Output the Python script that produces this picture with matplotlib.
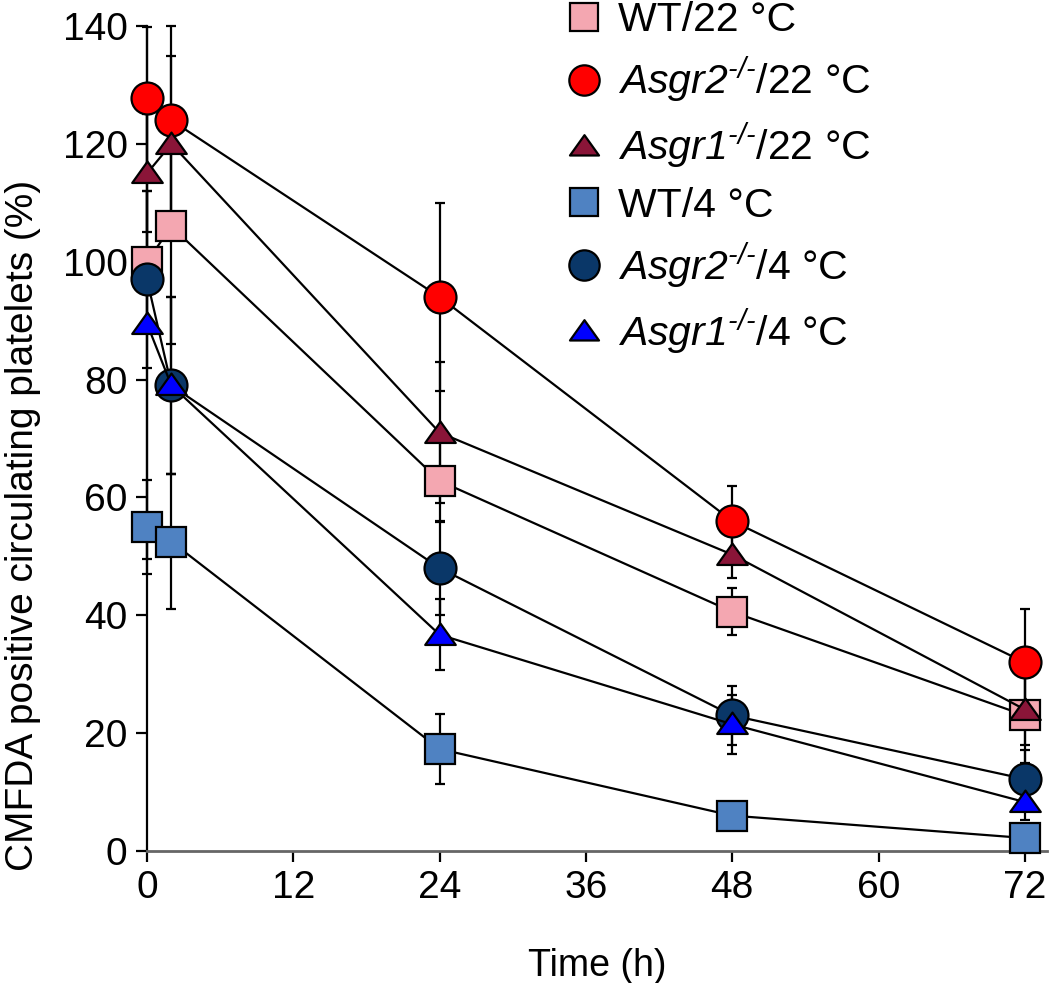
import numpy as np
import matplotlib
matplotlib.use('Agg')
import matplotlib.pyplot as plt
from matplotlib.path import Path

plt.rcParams['font.family'] = ['Liberation Sans', 'DejaVu Sans']
plt.rcParams['mathtext.fontset'] = 'custom'
# italic gene names are written with \text{}, which uses the rm slot
plt.rcParams['mathtext.rm'] = 'Liberation Sans:italic'
plt.rcParams['mathtext.it'] = 'Liberation Sans:italic'

# time points (h)
time = [0, 2, 24, 48, 72]

# series values (% CMFDA positive platelets) and error bars
wt_22 = [100, 106, 62.8, 40.6, 23]
wt_22_err = [12, 20, 7, 4, 8]
asgr2_22 = [127.8, 124, 94, 56, 32]
asgr2_22_err = [12, 16, 16, 6, 9]
asgr1_22 = [115, 120, 71, 50.3, 24]
asgr1_22_err = [10, 15, 12, 4, 6]
wt_4 = [55, 52.5, 17.3, 6, 2.2]
wt_4_err = [8, 11.5, 6, 2, 1.5]
asgr2_4 = [97, 79, 48, 23, 12.2]
asgr2_4_err = [15, 15, 8, 5, 5]
asgr1_4 = [89.5, 79, 36.7, 21.5, 8.3]
asgr1_4_err = [40, 15, 6, 5, 3]

labels = ['WT/22 °C', r'$\text{Asgr2}^{\text{-/-}}$/22 °C', r'$\text{Asgr1}^{\text{-/-}}$/22 °C',
          'WT/4 °C', r'$\text{Asgr2}^{\text{-/-}}$/4 °C', r'$\text{Asgr1}^{\text{-/-}}$/4 °C']
colors = ['#F4A7B1', '#FF0000', '#8A1538', '#4F82C2', '#0A3768', '#0000FF']

# flattened triangle marker
tri = Path([(-1, -0.62), (1, -0.62), (0, 0.78), (-1, -0.62)],
           [Path.MOVETO, Path.LINETO, Path.LINETO, Path.CLOSEPOLY])
markers = ['s', 'o', tri, 's', 'o', tri]
sizes = [21, 23, 22, 21, 23, 22]

series = [wt_22, asgr2_22, asgr1_22, wt_4, asgr2_4, asgr1_4]
errors = [wt_22_err, asgr2_22_err, asgr1_22_err, wt_4_err, asgr2_4_err, asgr1_4_err]

fig = plt.figure(figsize=(10.5, 9.83), dpi=100)
ax = fig.add_axes([0.14, 0.1343, 0.857, 0.8392])

for vals, err, lab, col, mk, ms in zip(series, errors, labels, colors, markers, sizes):
    ax.errorbar(time, vals, yerr=err, fmt='none', ecolor='black', elinewidth=1.6,
                capsize=3.5, capthick=1.6, clip_on=False, zorder=2)
    ax.plot(time, vals, color='black', lw=1.6, marker=mk, markersize=ms,
            markerfacecolor=col, markeredgecolor='black', markeredgewidth=1.6,
            clip_on=False, zorder=3, label=lab)

ax.set_xlim(0, 73.8)
ax.set_ylim(0, 140)
ax.set_xticks([0, 12, 24, 36, 48, 60, 72])
ax.set_yticks([0, 20, 40, 60, 80, 100, 120, 140])
ax.tick_params(direction='out', length=8, width=1.6, labelsize=28, pad=6)
for s in ['top', 'right']:
    ax.spines[s].set_visible(False)
ax.spines['left'].set_linewidth(1.6)
ax.spines['bottom'].set_linewidth(2)
ax.spines['bottom'].set_color('#666666')

ax.set_xlabel('Time (h)', fontsize=27, labelpad=30)
ax.set_ylabel('CMFDA positive circulating platelets (%)', fontsize=28)
ax.yaxis.set_label_coords(-0.118, 0.395)

# legend: marker only, no line
leg_handles = [plt.Line2D([], [], ls='none', marker=mk, markersize=ms * 0.95,
                          markerfacecolor=col, markeredgecolor='black', markeredgewidth=1.6)
               for col, mk, ms in zip(colors, markers, sizes)]
ax.legend(leg_handles, labels, loc='upper left', bbox_to_anchor=(0.442, 1.055),
          frameon=False, fontsize=29.5, handlelength=0.9, handletextpad=0.4,
          labelspacing=0.38, borderpad=0)

fig.savefig('out.png', dpi=100)
